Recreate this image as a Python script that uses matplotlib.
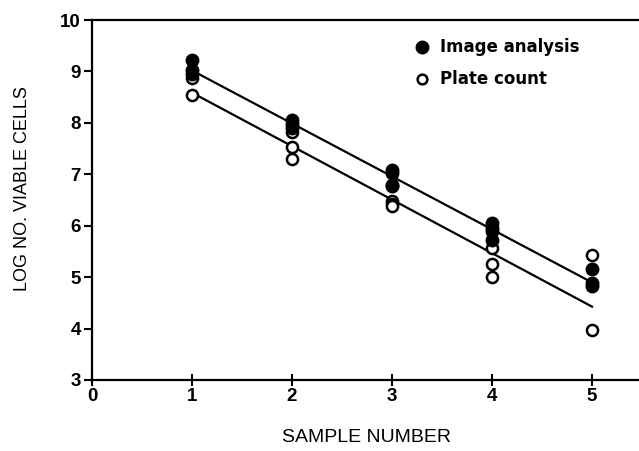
import numpy as np
import matplotlib
matplotlib.use("Agg")
import matplotlib.pyplot as plt

# Image analysis (filled)
ia_x = [1, 1, 1, 2, 2, 2, 3, 3, 3, 3, 4, 4, 4, 4, 5, 5, 5]
ia_y = [9.22, 9.02, 8.95, 8.05, 7.97, 7.90, 7.08, 7.03, 6.80, 6.77,
        6.05, 5.95, 5.90, 5.72, 5.15, 4.88, 4.82]
# Plate count (open)
pc_x = [1, 1, 2, 2, 2, 3, 3, 3, 4, 4, 4, 5, 5]
pc_y = [8.88, 8.55, 7.82, 7.53, 7.30, 6.48, 6.43, 6.38, 5.56, 5.25, 5.00, 5.43, 3.98]

xticks = [0, 1, 2, 3, 4, 5]
yticks = [3, 4, 5, 6, 7, 8, 9, 10]

W, H = 639, 451
fig = plt.figure(figsize=(W / 100, H / 100), dpi=100)
ax = fig.add_axes([92 / W, 1 - 380 / H, 550 / W, 360 / H])

fit_x = np.array([1, 5])
for xs, ys in [(ia_x, ia_y), (pc_x, pc_y)]:
    m, b = np.polyfit(xs, ys, 1)
    ax.plot(fit_x, m * fit_x + b, color="black", lw=1.6, zorder=2)

ax.plot(pc_x, pc_y, 'o', ms=8, mfc="white", mec="black", mew=1.8, zorder=3)
ax.plot(ia_x, ia_y, 'o', ms=9, mfc="black", mec="black", zorder=4)

ax.set_xlim(0, 5.5)
ax.set_ylim(3, 10)
ax.set_xticks(xticks)
ax.set_yticks(yticks)
ax.tick_params(axis='x', direction='inout', length=8, width=1.5, labelsize=13.5, pad=2)
ax.tick_params(axis='y', direction='out', length=6, width=1.5, labelsize=13.5, pad=2)
for lab in ax.get_xticklabels() + ax.get_yticklabels():
    lab.set_fontweight('bold')
    lab.set_family('Liberation Sans')
for s in ['left', 'bottom', 'top']:
    ax.spines[s].set_linewidth(1.6)
ax.spines['right'].set_visible(False)

fig.text(367 / W, 1 - 437 / H, "SAMPLE NUMBER", ha='center', va='center',
         fontsize=14, family='Liberation Sans')
fig.text(23 / W, 1 - 189 / H, "LOG NO. VIABLE CELLS", ha='center', va='center',
         rotation=90, fontsize=13, family='Liberation Sans')

# legend
ax.plot([3.3], [9.47], 'o', ms=9, mfc='black', mec='black', clip_on=False)
ax.plot([3.3], [8.86], 'o', ms=7, mfc='white', mec='black', mew=1.8, clip_on=False)
ax.text(3.48, 9.47, "Image analysis", va='center', ha='left', fontsize=12, fontweight='bold')
ax.text(3.48, 8.86, "Plate count", va='center', ha='left', fontsize=12, fontweight='bold')

fig.savefig("out.png", dpi=100)
